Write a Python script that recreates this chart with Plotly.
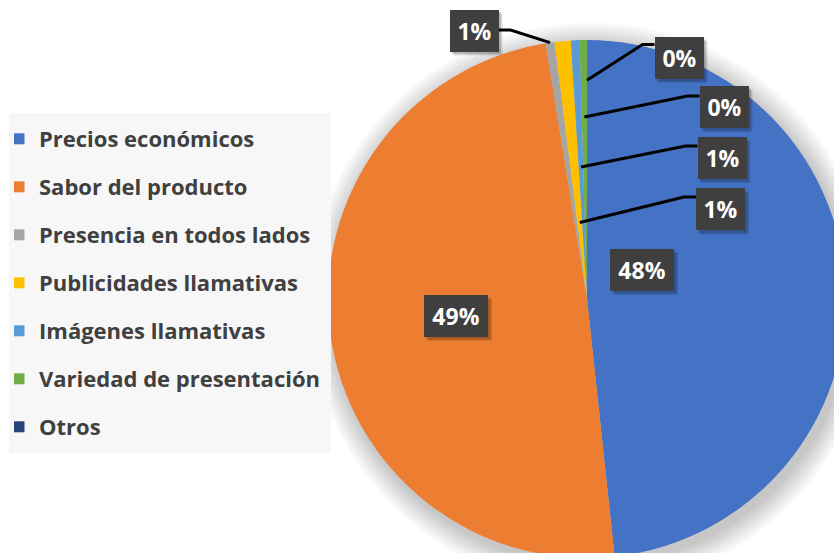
import math
import plotly.graph_objects as go

# Survey answers and their share of responses (%)
categories = [
    "Precios económicos",
    "Sabor del producto",
    "Presencia en todos lados",
    "Publicidades llamativas",
    "Imágenes llamativas",
    "Variedad de presentación",
    "Otros",
]
shares = [48.3, 49.15, 0.55, 1.0, 0.55, 0.45, 0.0]
colors = ["#4472C4", "#ED7D31", "#A5A5A5", "#FFC000", "#5B9BD5", "#70AD47", "#264478"]

# Canvas and pie geometry (px); the pie runs past the right and bottom edges
W, H = 850, 570
CX, CY, R = 587, 299, 259


def px(x):
    return x / W


def py(y):
    return 1 - y / H


total = sum(shares)
pct_text = [f"{int(math.floor(v / total * 100 + 0.5))}%" for v in shares]

# Mid-angle of each slice, clockwise from 12 o'clock (degrees)
mid_angle = []
acc = 0.0
for v in shares:
    mid_angle.append((acc + v / 2) / total * 360)
    acc += v


def on_slice(i, frac):
    a = math.radians(mid_angle[i])
    return CX + frac * R * math.sin(a), CY - frac * R * math.cos(a)


fig = go.Figure()

fig.add_trace(go.Pie(
    labels=categories,
    values=shares,
    marker=dict(colors=colors, line=dict(width=0)),
    sort=False,
    direction="clockwise",
    rotation=0,
    textinfo="none",
    hoverinfo="label+percent",
    showlegend=False,
    domain=dict(x=[px(CX - R), px(CX + R)], y=[py(CY + R), py(CY - R)]),
))

# Legend entries (one group each so they can be spaced apart)
for name, col in zip(categories, colors):
    fig.add_trace(go.Scatter(
        x=[None], y=[None], mode="markers", name=name, legendgroup=name,
        marker=dict(symbol="square", size=11, color=col),
        hoverinfo="skip",
    ))

shapes = []
annotations = []

# Soft drop shadow around the pie
for k in range(1, 15):
    rr = R + k * 1.7
    sx, sy = CX + 4, CY + 6
    shapes.append(dict(
        type="circle", xref="paper", yref="paper", layer="below",
        x0=px(sx - rr), x1=px(sx + rr), y0=py(sy + rr), y1=py(sy - rr),
        fillcolor="rgba(0,0,0,0.017)", line=dict(width=0),
    ))

BOX_BG = "#3f3f3f"
LABEL_FONT = dict(family="Open Sans", size=23, color="white", weight="bold")


def add_box(cx, cy, w, h, text):
    # small offset shadow behind the label box
    for off, alpha in ((4, 0.12), (2.5, 0.18)):
        shapes.append(dict(
            type="rect", xref="paper", yref="paper", layer="above",
            x0=px(cx - w / 2 + off), x1=px(cx + w / 2 + off),
            y0=py(cy + h / 2 + off), y1=py(cy - h / 2 + off),
            fillcolor=f"rgba(0,0,0,{alpha})", line=dict(width=0),
        ))
    annotations.append(dict(
        x=px(cx), y=py(cy), xref="paper", yref="paper",
        xanchor="center", yanchor="middle", showarrow=False,
        text=text, font=LABEL_FONT, bgcolor=BOX_BG,
        width=w, height=h, borderpad=0, borderwidth=0,
    ))


# Labels placed inside the two large slices
big_labels = [(0, 642, 270), (1, 456, 316)]
for i, bx, by in big_labels:
    add_box(bx, by, 64, 42, pct_text[i])

# Labels for the thin slices, joined to them by leader lines
# (slice index, box centre x, box centre y, side of box, line y, depth into slice)
small_labels = [
    (2, 474, 30.5, "right", 30, 1.0),
    (6, 679, 58, "left", 44.5, 0.845),
    (5, 724, 107, "left", 96, 0.703),
    (4, 722, 158, "left", 146, 0.51),
    (3, 720.5, 209.5, "left", 197, 0.297),
]
SW, SH = 49, 42
for i, bx, by, side, ly, frac in small_labels:
    ex, ey = on_slice(i, frac)
    if side == "left":
        x_box = bx - SW / 2
        x_elb = x_box - 12
    else:
        x_box = bx + SW / 2
        x_elb = x_box + 12
    path = (f"M {px(ex)} {py(ey)} L {px(x_elb)} {py(ly)} L {px(x_box)} {py(ly)}")
    shapes.append(dict(
        type="path", xref="paper", yref="paper", layer="above", path=path,
        line=dict(color="black", width=3),
    ))
    add_box(bx, by, SW, SH, pct_text[i])

LEGEND_BG = "#f7f7f7"
fig.update_layout(
    width=W,
    height=H,
    margin=dict(l=0, r=0, t=0, b=0),
    paper_bgcolor="white",
    plot_bgcolor="white",
    xaxis=dict(visible=False),
    yaxis=dict(visible=False),
    showlegend=True,
    legend=dict(
        x=px(9), y=py(113), xanchor="left", yanchor="top",
        bgcolor=LEGEND_BG,
        bordercolor=LEGEND_BG,
        borderwidth=5,
        font=dict(family="Open Sans", size=22, color="#404040", weight="bold"),
        traceorder="grouped",
        tracegroupgap=16.4,
        indentation=-15,
        itemclick=False,
    ),
    shapes=shapes,
    annotations=annotations,
)

fig.write_html(
    "out.html",
    post_script=(
        "document.body.style.margin='0';"
        "document.body.style.overflow='hidden';"
        "document.documentElement.style.overflow='hidden';"
    ),
)
